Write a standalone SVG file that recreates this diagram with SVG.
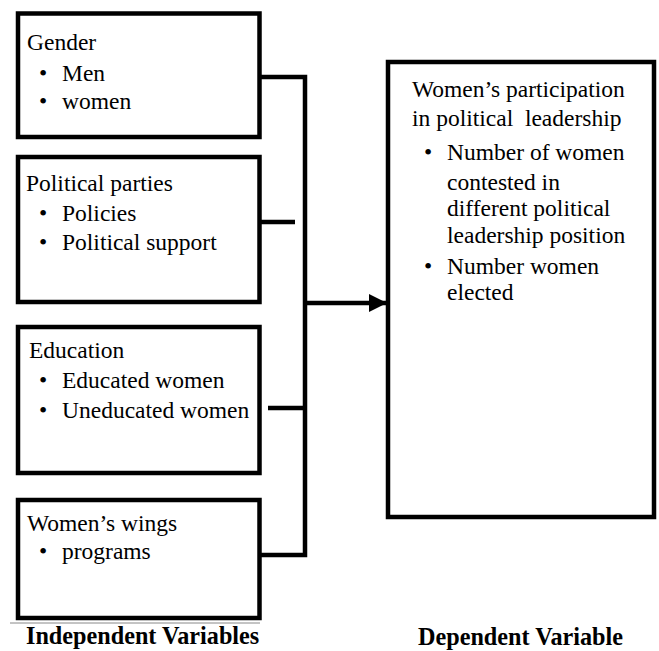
<svg xmlns="http://www.w3.org/2000/svg" width="659" height="651" viewBox="0 0 659 651">
<style>
.box{fill:#fff;stroke:#000;stroke-width:4.5}
text{font-family:'Liberation Serif','Times New Roman','DejaVu Serif',serif;font-size:23.5px;fill:#000}
.b{font-weight:bold;font-size:24.2px}
.bul{text-anchor:middle}
.c{fill:none;stroke:#000;stroke-width:4.5}
</style>
<defs>
<marker id="ah" markerWidth="18" markerHeight="18" refX="17" refY="9" orient="auto" markerUnits="userSpaceOnUse">
<polygon points="0,0 18,9 0,18" fill="#000"/>
</marker>
</defs>
<rect width="659" height="651" fill="#fff"/>
<g id="gender">
<rect class="box" x="18" y="13.5" width="241.5" height="123.5"/>
<text x="27" y="50">Gender</text>
<text class="bul" x="43" y="81">•</text><text x="62" y="81">Men</text>
<text class="bul" x="43" y="109">•</text><text x="62" y="109">women</text>
</g>
<g id="political-parties">
<rect class="box" x="18" y="157" width="241.5" height="145"/>
<text x="26" y="191">Political parties</text>
<text class="bul" x="43" y="221">•</text><text x="62" y="221">Policies</text>
<text class="bul" x="43" y="250">•</text><text x="62" y="250">Political support</text>
</g>
<g id="education">
<rect class="box" x="18" y="327" width="241.5" height="146"/>
<text x="29" y="358">Education</text>
<text class="bul" x="43" y="388">•</text><text x="62" y="388">Educated women</text>
<text class="bul" x="43" y="418">•</text><text x="62" y="418">Uneducated women</text>
</g>
<g id="womens-wings">
<rect class="box" x="18" y="500" width="241.5" height="118"/>
<text x="27" y="531">Women’s wings</text>
<text class="bul" x="43" y="559">•</text><text x="62" y="559">programs</text>
</g>
<g id="dependent">
<rect class="box" x="388" y="62" width="266" height="455"/>
<text x="412" y="97">Women’s participation</text>
<text x="412" y="126" xml:space="preserve">in political  leadership</text>
<text class="bul" x="428" y="160">•</text>
<text x="447" y="160">Number of women</text>
<text x="447" y="190">contested in</text>
<text x="447" y="216">different political</text>
<text x="447" y="243">leadership position</text>
<text class="bul" x="428" y="274">•</text>
<text x="447" y="274">Number women</text>
<text x="447" y="300">elected</text>
</g>
<g id="connectors">
<polyline class="c" points="260,77 305,77 305,555 260,555"/>
<line class="c" x1="260" y1="222" x2="295" y2="222"/>
<line class="c" x1="268" y1="408" x2="305" y2="408"/>
<line class="c" x1="305" y1="303" x2="386" y2="303" marker-end="url(#ah)"/>
</g>
<line x1="10" y1="623" x2="260" y2="623" stroke="#888" stroke-width="1"/>
<g id="labels">
<text class="b" x="26" y="644">Independent Variables</text>
<text class="b" x="418" y="645">Dependent Variable</text>
</g>
</svg>
